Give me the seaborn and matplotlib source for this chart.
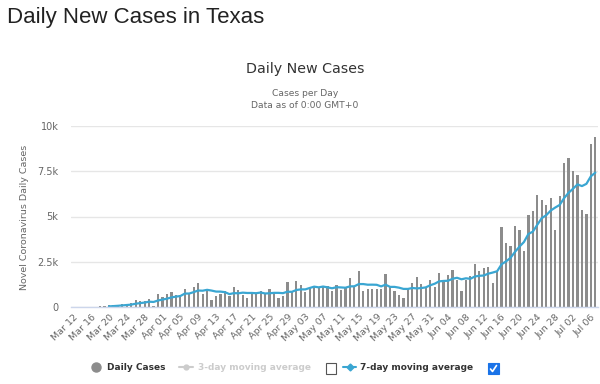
#!/usr/bin/env python3

import pandas as pd
import matplotlib
matplotlib.use("Agg")
import matplotlib.pyplot as plt
import seaborn as sns
from matplotlib.lines import Line2D
from matplotlib.patches import Rectangle

# daily new cases in Texas (Mar 12 .. Jul 07)
start_date = "2020-03-12"
daily_cases = [
    None, None, 10, 10, 15, 20, 50, 50,                 # Mar 12-19
    90, 110, 130, 160, 180, 200, 400, 320, 330, 460, 60, 740,   # Mar 20-31
    560, 740, 810, 640, 690, 1010, 760, 1110, 1350, 740,        # Apr 01-10
    980, 400, 630, 740, 900, 600, 1110, 920, 650, 500,          # Apr 11-20
    750, 800, 870, 740, 1000, 810, 500, 630, 1360, 830,         # Apr 21-30
    1450, 1230, 810, 1050, 1140, 1090, 1140, 1140, 870, 1230,   # May 01-10
    960, 1030, 1600, 1180, 2000, 870, 980, 980, 980, 980,       # May 11-20
    1850, 1140, 870, 680, 500, 970, 1340, 1680, 1290, 1130, 1490,  # May 21-31
    1100, 1890, 1500, 1750, 2060, 1510, 910, 1480, 1690, 2400,  # Jun 01-10
    2010, 2180, 2220, 1340, 1990, 4400, 3510, 3370, 4490, 4250, # Jun 11-20
    3110, 5100, 5320, 6170, 5930, 5620, 6040, 4270, 6110, 7960, # Jun 21-30
    8230, 7500, 7310, 5380, 5140, 9020, 9390,                   # Jul 01-07
]

y_ticks = [0, 2500, 5000, 7500, 10000]
y_tick_labels = ["0", "2.5k", "5k", "7.5k", "10k"]

BAR_COLOR = "#8c8c8c"
LINE_COLOR = "#3aa6d2"
GREY_TEXT = "#666666"


def main():
    dates = pd.date_range(start_date, periods=len(daily_cases))
    df = pd.DataFrame({
        "day": range(len(daily_cases)),
        "cases": pd.Series(daily_cases, dtype=float),
    })
    df["ma7"] = df["cases"].rolling(7).mean()

    sns.set_style("white")
    plt.rcParams["font.family"] = ["DejaVu Sans"]

    fig = plt.figure(figsize=(6, 3.84), dpi=100)
    ax = fig.add_axes([71 / 600, 1 - 307 / 384, 527 / 600, 181 / 384])

    sns.barplot(data=df, x="day", y="cases", order=list(df["day"]),
                color=BAR_COLOR, saturation=1, width=0.5,
                errorbar=None, linewidth=0, ax=ax)
    sns.lineplot(data=df, x="day", y="ma7", color=LINE_COLOR,
                 linewidth=1.6, ax=ax)

    ax.set_xlim(-0.5, len(df) - 0.4)
    ax.set_ylim(0, 10000)
    ax.set_yticks(y_ticks)
    ax.set_yticklabels(y_tick_labels)
    tick_pos = list(range(0, len(df), 4))
    ax.set_xticks(tick_pos)
    ax.set_xticklabels([dates[i].strftime("%b %d") for i in tick_pos],
                       rotation=45, ha="right", rotation_mode="anchor")
    ax.tick_params(axis="x", length=0, pad=4, labelsize=6.8, colors=GREY_TEXT)
    ax.tick_params(axis="y", length=0, pad=9, labelsize=7, colors=GREY_TEXT)

    ax.yaxis.grid(True, color="#e6e6e6", linewidth=1)
    ax.xaxis.grid(False)
    ax.set_axisbelow(True)
    for side in ["top", "right", "left"]:
        ax.spines[side].set_visible(False)
    ax.spines["bottom"].set_color("#ccd6eb")
    ax.spines["bottom"].set_linewidth(1)

    ax.set_xlabel("")
    ax.set_ylabel("")
    fig.text(25 / 600, 1 - 217 / 384, "Novel Coronavirus Daily Cases",
             rotation=90, ha="center", va="center", fontsize=6.8,
             color=GREY_TEXT)

    # titles
    fig.text(7 / 600, 1 - 17 / 384, "Daily New Cases in Texas",
             family="Liberation Sans", fontsize=16, color="#222222",
             ha="left", va="center")
    fig.text(305 / 600, 1 - 69 / 384, "Daily New Cases", fontsize=10.3,
             color="#333333", ha="center", va="center")
    fig.text(305 / 600, 1 - 94 / 384, "Cases per Day", fontsize=6.6,
             color=GREY_TEXT, ha="center", va="center")
    fig.text(305 / 600, 1 - 105 / 384, "Data as of 0:00 GMT+0", fontsize=6.6,
             color=GREY_TEXT, ha="center", va="center")

    # legend row
    ly = 1 - 367 / 384
    fig.add_artist(Line2D([96 / 600], [ly], marker="o", markersize=6.5,
                          color=BAR_COLOR, linestyle="none"))
    fig.text(107 / 600, ly, "Daily Cases", fontsize=6.5, weight="bold",
             color="#333333", ha="left", va="center")
    fig.add_artist(Line2D([179 / 600, 193 / 600], [ly, ly], color="#cccccc",
                          linewidth=1.5))
    fig.add_artist(Line2D([186 / 600], [ly], marker="o", markersize=3.5,
                          color="#cccccc", linestyle="none"))
    fig.text(198 / 600, ly, "3-day moving average", fontsize=6.5,
             weight="bold", color="#cccccc", ha="left", va="center")
    fig.add_artist(Rectangle((326 / 600, 1 - 374 / 384), 10 / 600, 11 / 384,
                             transform=fig.transFigure, facecolor="white",
                             edgecolor="#555555", linewidth=0.8))
    fig.add_artist(Line2D([343 / 600, 356 / 600], [ly, ly], color=LINE_COLOR,
                          linewidth=1.5))
    fig.add_artist(Line2D([349.5 / 600], [ly], marker="D", markersize=3.5,
                          color=LINE_COLOR, linestyle="none"))
    fig.text(360 / 600, ly, "7-day moving average", fontsize=6.5,
             weight="bold", color="#333333", ha="left", va="center")
    fig.add_artist(Rectangle((488 / 600, 1 - 374 / 384), 10.5 / 600, 11 / 384,
                             transform=fig.transFigure, facecolor="#1a73e8",
                             edgecolor="#1a73e8", linewidth=0.8))
    fig.add_artist(Line2D([490.5 / 600, 492.5 / 600, 496.5 / 600],
                          [1 - 369 / 384, 1 - 371.5 / 384, 1 - 365.5 / 384],
                          color="white", linewidth=1.2))

    fig.savefig("out.png", dpi=100)
    plt.close(fig)


if __name__ == "__main__":
    main()
